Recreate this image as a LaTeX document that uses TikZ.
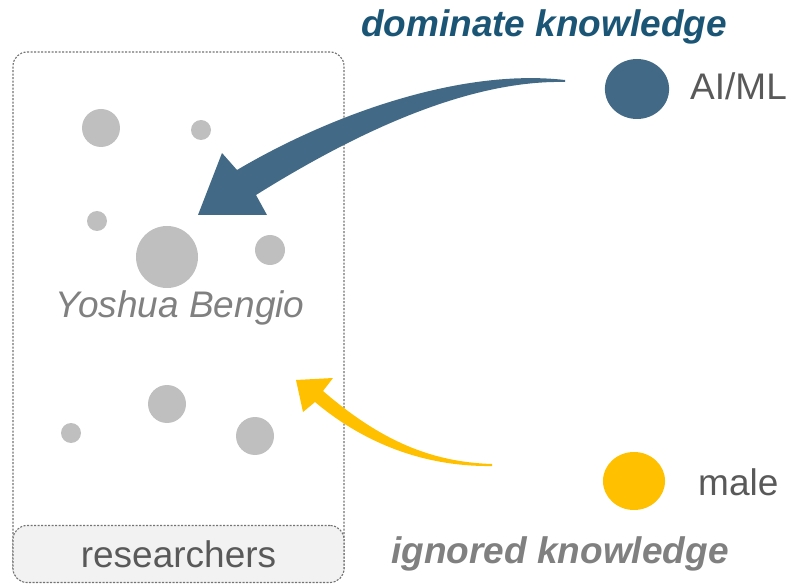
\documentclass[tikz,border=0pt]{standalone}
\usepackage{fontspec}
\setmainfont{Liberation Sans}
\usetikzlibrary{positioning}
\definecolor{domblue}{HTML}{1B5576}
\definecolor{arrblue}{HTML}{426A86}
\definecolor{ignyellow}{HTML}{FFC000}
\definecolor{dotgray}{HTML}{BFBFBF}
\definecolor{txtgray}{HTML}{595959}
\definecolor{lblgray}{HTML}{808080}
\definecolor{boxfill}{HTML}{F2F2F2}
\begin{document}
\begin{tikzpicture}[
    x=1pt, y=-1pt,
    every node/.style={inner sep=0pt, font=\fontsize{37}{40}\selectfont},
    panel/.style={draw=lblgray!90!black, dash pattern=on 2pt off 1.5pt, line width=1.1pt, rounded corners=14pt},
    dot/.style={circle, fill=dotgray, minimum size=#1},
    blob/.style={ellipse, fill=#1}
]
\useasboundingbox (0,0) rectangle (790,585);
% researchers box
\node[panel, minimum width=331pt, minimum height=530pt] (frame) at (178.5,317) {};
\node[panel, fill=boxfill, minimum width=331pt, minimum height=57pt, text=txtgray] (res) at (178.5,554) {researchers};
% people
\foreach \name/\px/\py/\d in {p1/101/128/38, p2/201/130/20, p3/97/221/20, p4/167/257/62,
    p5/270/250/30, p6/167/404/38, p7/71/433/20, p8/255/436/38}
    \node[dot=\d pt] (\name) at (\px,\py) {};
\node[anchor=base, text=lblgray, font=\fontsize{37}{40}\selectfont\itshape] (bengio) at (180,318) {Yoshua Bengio};
% legend
\node[circle, fill=arrblue, minimum size=60pt, xscale=1.07] (aiml) at (637,89) {};
\node[anchor=base west, text=txtgray] (aimltxt) at (690,100) {AI/ML};
\node[circle, fill=ignyellow, minimum size=58pt, xscale=1.07] (male) at (634,481) {};
\node[anchor=base west, text=txtgray] (maletxt) at (698,495) {male};
% arrows
\fill[arrblue] (565,80) .. controls (460,68) and (330,115) .. (237,170) -- (222,153) -- (198,215)
    -- (267,215) -- (256,195) .. controls (360,130) and (470,80) .. (565,82) -- cycle;
\fill[ignyellow] (492,464) .. controls (430,462) and (380,440) .. (323,391) -- (333,378) -- (296,380)
    -- (303,412) -- (315,402) .. controls (360,440) and (420,467) .. (492,466) -- cycle;
\node[anchor=base, text=domblue, font=\fontsize{37}{40}\selectfont\bfseries\itshape] (dom) at (544,37) {dominate knowledge};
\node[anchor=base, text=lblgray, font=\fontsize{37}{40}\selectfont\bfseries\itshape] (ign) at (560,563) {ignored knowledge};
\end{tikzpicture}
\end{document}
